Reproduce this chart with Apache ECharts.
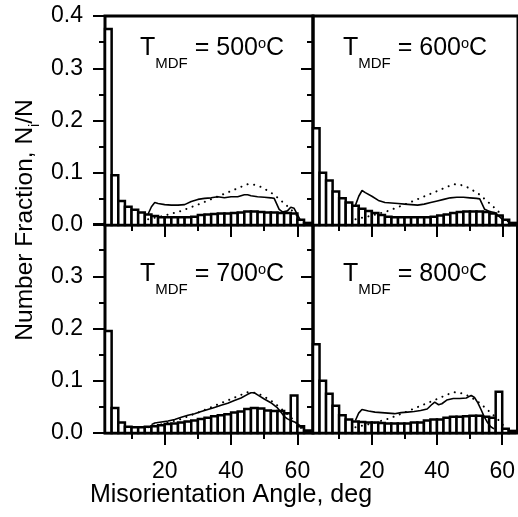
<!DOCTYPE html>
<html>
<head>
<meta charset="utf-8">
<script src="https://cdn.jsdelivr.net/npm/echarts@6/dist/echarts.min.js"></script>
<style>
html, body { margin: 0; padding: 0; background: #fff; }
#chart { width: 518px; height: 517px; }
</style>
</head>
<body>
<div id="chart"></div>
<script>
// histogram bins, deg (each bin is binWidth wide)
var binLeft = [2, 4, 6, 8, 10, 12, 14, 16, 18, 20, 22, 24, 26, 28, 30, 32, 34, 36, 38, 40, 42, 44, 46, 48, 50, 52, 54, 56, 58, 60, 62];
var binWidth = 2;

// number fraction per bin
var bars500 = [0.375, 0.095, 0.046, 0.035, 0.029, 0.024, 0.020, 0.017, 0.015, 0.015, 0.015, 0.015, 0.015, 0.016, 0.019, 0.020, 0.021, 0.022, 0.022, 0.023, 0.024, 0.026, 0.026, 0.025, 0.024, 0.024, 0.023, 0.023, 0.022, 0.010, 0.004];
var bars600 = [0.185, 0.100, 0.085, 0.064, 0.051, 0.043, 0.037, 0.031, 0.027, 0.023, 0.019, 0.016, 0.015, 0.015, 0.015, 0.015, 0.015, 0.015, 0.016, 0.018, 0.020, 0.023, 0.025, 0.026, 0.026, 0.026, 0.025, 0.022, 0.018, 0.010, 0.004];
var bars700 = [0.195, 0.048, 0.020, 0.012, 0.011, 0.011, 0.012, 0.013, 0.015, 0.017, 0.018, 0.020, 0.022, 0.024, 0.027, 0.029, 0.032, 0.034, 0.036, 0.039, 0.041, 0.046, 0.048, 0.047, 0.043, 0.042, 0.042, 0.038, 0.072, 0.013, 0.005];
var bars800 = [0.170, 0.100, 0.075, 0.052, 0.034, 0.026, 0.022, 0.021, 0.020, 0.020, 0.019, 0.018, 0.018, 0.018, 0.018, 0.020, 0.020, 0.024, 0.026, 0.026, 0.029, 0.031, 0.031, 0.032, 0.033, 0.033, 0.031, 0.029, 0.079, 0.008, 0.004];

// solid curves [angle, fraction]
var solid500 = [[15, 0.021], [16, 0.035], [17, 0.043], [18, 0.041], [20, 0.039], [22, 0.038], [24, 0.038], [26, 0.039], [28, 0.045], [30, 0.049], [32, 0.051], [34, 0.052], [36, 0.054], [38, 0.052], [40, 0.054], [42, 0.054], [44, 0.058], [45, 0.058], [46, 0.056], [48, 0.054], [50, 0.053], [52, 0.052], [53, 0.051], [54.5, 0.030], [55.5, 0.025], [57, 0.027], [58, 0.034], [59, 0.032], [60, 0.020], [61, 0.008]];
var solid600 = [[15, 0.038], [16, 0.055], [17, 0.066], [18, 0.062], [20, 0.055], [22, 0.047], [24, 0.043], [26, 0.042], [28, 0.041], [30, 0.040], [32, 0.039], [34, 0.038], [36, 0.040], [38, 0.043], [40, 0.046], [42, 0.049], [44, 0.052], [46, 0.053], [48, 0.053], [50, 0.052], [52, 0.051], [53, 0.050], [54.5, 0.030], [56, 0.026], [57.5, 0.024], [59, 0.016], [60.5, 0.008]];
var solid700 = [[16, 0.016], [17, 0.019], [19, 0.021], [21, 0.023], [23, 0.026], [25, 0.030], [27, 0.034], [29, 0.037], [31, 0.041], [33, 0.045], [35, 0.049], [37, 0.053], [39, 0.057], [41, 0.062], [43, 0.067], [45, 0.074], [46, 0.077], [47, 0.077], [48, 0.073], [50, 0.065], [52, 0.058], [54, 0.048], [55, 0.040], [56, 0.032], [57, 0.027], [58, 0.024], [59.5, 0.020], [61, 0.013], [62, 0.008]];
var solid800 = [[15, 0.024], [16, 0.038], [17, 0.045], [19, 0.042], [21, 0.040], [23, 0.039], [25, 0.038], [27, 0.037], [29, 0.039], [31, 0.040], [33, 0.041], [35, 0.043], [37, 0.046], [38.5, 0.055], [39.3, 0.059], [40.5, 0.054], [41.5, 0.056], [43, 0.063], [45, 0.066], [47, 0.066], [49, 0.067], [50.5, 0.072], [51.5, 0.068], [52.5, 0.058], [53.5, 0.045], [54.5, 0.031], [55.5, 0.020], [56.5, 0.012], [57.5, 0.008]];

// dotted reference curve (same in every panel)
var random = [[15, 0.011], [20, 0.018], [25, 0.027], [30, 0.039], [35, 0.052], [40, 0.065], [43, 0.073], [45, 0.078], [47, 0.077], [49, 0.073], [51, 0.066], [53, 0.058], [55, 0.047], [57, 0.036], [59, 0.024], [61, 0.010], [62.8, 0.002]];

var temps = ['500', '600', '700', '800'];
var majorTicks = [20, 40, 60];
var minorTicks = [10, 30, 50];

var FONT = '"Liberation Sans", Arial, sans-serif';
var xMin = 2, xMax = 64.7;

var panels = [
    { bars: bars500, solid: solid500, grid: { left: 105, top: 16 }, title: { left: 140, top: 36 } },
    { bars: bars600, solid: solid600, grid: { left: 313, top: 16 }, title: { left: 343, top: 36 } },
    { bars: bars700, solid: solid700, grid: { left: 105, top: 224 }, title: { left: 140, top: 261.5 } },
    { bars: bars800, solid: solid800, grid: { left: 313, top: 224 }, title: { left: 343, top: 261.5 } }
];

function barItem(params, api) {
    var p0 = api.coord([api.value(0), 0]);
    var p1 = api.coord([api.value(1), api.value(2)]);
    return {
        type: 'rect',
        shape: { x: p0[0], y: p1[1], width: p1[0] - p0[0], height: p0[1] - p1[1] },
        style: { fill: '#fff', stroke: '#000', lineWidth: 2.5 }
    };
}

var grid = [], xAxis = [], yAxis = [], series = [], title = [];

panels.forEach(function (p, i) {
    var isLeft = i % 2 === 0;
    var isBottom = i >= 2;
    grid.push({
        left: p.grid.left, top: p.grid.top, width: 208, height: 209,
        show: true, borderColor: '#000', borderWidth: 3, backgroundColor: 'transparent'
    });
    [majorTicks, minorTicks].forEach(function (ticks, k) {
        xAxis.push({
            type: 'value', gridIndex: i, min: xMin, max: xMax, position: 'bottom',
            axisLine: { show: false, onZero: false },
            splitLine: { show: false },
            axisTick: { show: true, customValues: ticks, length: k === 0 ? 12 : 6, lineStyle: { color: '#000', width: 2 } },
            axisLabel: {
                show: isBottom && k === 0, customValues: ticks, margin: 27,
                color: '#000', fontSize: 23, fontFamily: FONT
            }
        });
    });
    yAxis.push({
        type: 'value', gridIndex: i, min: 0, max: 0.4, interval: 0.1,
        axisLine: { show: false },
        splitLine: { show: false },
        axisTick: { show: true, length: 12, lineStyle: { color: '#000', width: 2 } },
        minorTick: { show: true, splitNumber: 2, length: 6, lineStyle: { color: '#000', width: 2 } },
        axisLabel: {
            show: isLeft, margin: 22, color: '#000', fontSize: 23, fontFamily: FONT,
            showMaxLabel: !isBottom,
            formatter: function (v) { return v.toFixed(1); }
        }
    });

    var barData = binLeft.map(function (b, j) { return [b, b + binWidth, p.bars[j]]; });
    series.push({
        type: 'custom', xAxisIndex: 2 * i, yAxisIndex: i,
        renderItem: barItem, encode: { x: [0, 1], y: 2 }, data: barData, silent: true
    });
    series.push({
        type: 'line', xAxisIndex: 2 * i, yAxisIndex: i, data: random,
        showSymbol: false, silent: true,
        lineStyle: { color: '#000', width: 2, type: [0.1, 6.5], cap: 'round' }
    });
    series.push({
        type: 'line', xAxisIndex: 2 * i, yAxisIndex: i, data: p.solid,
        showSymbol: false, silent: true,
        lineStyle: { color: '#000', width: 1.6 }
    });

    // tokens sit on a common bottom line; padding lifts the main text and the degree sign
    title.push({
        text: '{t|T}{s|MDF}{t| = ' + temps[i] + '}{o|o}{t|C}',
        left: p.title.left, top: p.title.top, padding: 0,
        textStyle: {
            fontWeight: 'normal',
            rich: {
                t: { fontSize: 25, fontWeight: 'normal', verticalAlign: 'bottom', padding: [0, 0, 10.5, 0], color: '#000', fontFamily: FONT },
                s: { fontSize: 15, fontWeight: 'normal', verticalAlign: 'bottom', color: '#000', fontFamily: FONT },
                o: { fontSize: 14.6, fontWeight: 'normal', verticalAlign: 'bottom', padding: [0, 0, 20, 0], color: '#000', fontFamily: FONT }
            }
        }
    });
});

var chart = echarts.init(document.getElementById('chart'));
chart.setOption({
    animation: false,
    backgroundColor: '#fff',
    title: title,
    grid: grid,
    xAxis: xAxis,
    yAxis: yAxis,
    series: series,
    graphic: [
        {
            type: 'text', x: 231, y: 495, silent: true,
            style: {
                text: 'Misorientation Angle, deg', fill: '#000',
                font: '25px ' + FONT, textAlign: 'center', textVerticalAlign: 'middle',
                align: 'center', verticalAlign: 'middle'
            }
        },
        {
            type: 'text', x: 27.5, y: 220, rotation: Math.PI / 2, silent: true,
            style: {
                text: '{a|Number Fraction, N}{i|i}{a|/N}', fill: '#000',
                textAlign: 'center', textVerticalAlign: 'middle',
                align: 'center', verticalAlign: 'middle',
                rich: {
                    a: { fontSize: 24.5, verticalAlign: 'bottom', padding: [0, 0, 4, 0], fontFamily: FONT, color: '#000' },
                    i: { fontSize: 14, verticalAlign: 'bottom', fontFamily: FONT, color: '#000' }
                }
            }
        }
    ]
});
</script>
</body>
</html>
